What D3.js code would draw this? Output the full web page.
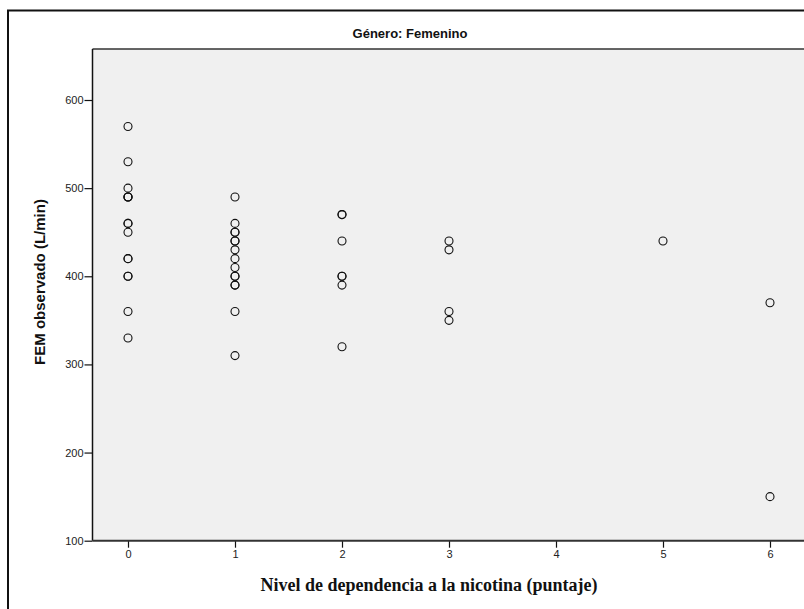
<!DOCTYPE html>
<html>
<head>
<meta charset="utf-8">
<script src="https://cdn.jsdelivr.net/npm/d3@7"></script>
<style>
  body { margin: 0; background: #fff; }
  svg { display: block; }
</style>
</head>
<body>
<svg id="canvas" width="804" height="609"></svg>
<script>
// nivel de dependencia (x) y FEM observado (y), one entry per case
let nivel = [
    0, 0, 0, 0, 0, 0, 0, 0, 0, 0, 0, 0, 0, 0, 0,
    1, 1, 1, 1, 1, 1, 1, 1, 1, 1, 1, 1, 1, 1, 1,
    2, 2, 2, 2, 2, 2, 2,
    3, 3, 3, 3,
    5,
    6, 6
]
let fem = [
    570, 530, 500, 490, 490, 460, 460, 450, 420, 420, 400, 400, 360, 330, 490,
    490, 460, 450, 450, 440, 440, 430, 420, 410, 400, 400, 390, 390, 360, 310,
    470, 470, 440, 400, 400, 390, 320,
    440, 430, 360, 350,
    440,
    370, 150
]
let xTicks = [0, 1, 2, 3, 4, 5, 6]
let yTicks = [100, 200, 300, 400, 500, 600]

let titleText = 'Género: Femenino'
let xLabel = 'Nivel de dependencia a la nicotina (puntaje)'
let yLabel = 'FEM observado (L/min)'

let canvas = d3.select('#canvas')

let plotLeft = 92.5
let plotTop = 49
let plotBottom = 540.7

let xScale = d3.scaleLinear()
                .domain([0, 6])
                .range([128, 770])

let yScale = d3.scaleLinear()
                .domain([100, 600])
                .range([plotBottom, 100])

// outer frame (runs off the right and bottom edge)
canvas.append('rect')
        .attr('x', 8)
        .attr('y', 10.5)
        .attr('width', 900)
        .attr('height', 700)
        .attr('fill', 'none')
        .attr('stroke', '#111')
        .attr('stroke-width', 2)

// plot background
canvas.append('rect')
        .attr('x', plotLeft)
        .attr('y', plotTop)
        .attr('width', 900)
        .attr('height', plotBottom - plotTop)
        .attr('fill', '#f0f0f0')

canvas.append('line')
        .attr('x1', plotLeft)
        .attr('x2', 804)
        .attr('y1', plotTop)
        .attr('y2', plotTop)
        .attr('stroke', '#333')
        .attr('stroke-width', 1.5)

canvas.append('text')
        .text(titleText)
        .attr('x', 410)
        .attr('y', 38)
        .attr('text-anchor', 'middle')
        .style('font-family', 'Liberation Sans, Arial, sans-serif')
        .style('font-weight', 'bold')
        .style('font-size', '13px')
        .attr('fill', '#111')

let yAxis = d3.axisLeft(yScale)
                .tickValues(yTicks)
                .tickSize(8)
                .tickPadding(1)
                .tickFormat(d3.format('d'))

let xAxis = d3.axisBottom(xScale)
                .tickValues(xTicks)
                .tickSize(7)
                .tickPadding(3)
                .tickFormat(d3.format('d'))

let gy = canvas.append('g')
        .attr('transform', 'translate(' + plotLeft + ',0)')
        .call(yAxis)
gy.select('.domain').remove()
gy.append('line')
        .attr('x1', 0)
        .attr('x2', 0)
        .attr('y1', plotTop)
        .attr('y2', plotBottom)
        .attr('stroke', '#111')
        .attr('stroke-width', 1.5)

let gx = canvas.append('g')
        .attr('transform', 'translate(0,' + plotBottom + ')')
        .call(xAxis)
gx.select('.domain').remove()
gx.append('line')
        .attr('x1', plotLeft)
        .attr('x2', 804)
        .attr('y1', 0)
        .attr('y2', 0)
        .attr('stroke', '#333')
        .attr('stroke-width', 2)

canvas.selectAll('.tick line')
        .attr('stroke', '#111')
        .attr('stroke-width', 1.2)
canvas.selectAll('.tick text')
        .style('font-family', 'Liberation Sans, Arial, sans-serif')
        .style('font-size', '11px')
        .attr('fill', '#222')

// points
canvas.append('g')
        .selectAll('circle')
        .data(fem)
        .enter()
        .append('circle')
        .attr('cx', (d, i) => xScale(nivel[i]))
        .attr('cy', (d) => yScale(d))
        .attr('r', 4)
        .attr('fill', 'none')
        .attr('stroke', '#111')
        .attr('stroke-width', 1.1)

canvas.append('text')
        .text(xLabel)
        .attr('x', 429)
        .attr('y', 591)
        .attr('text-anchor', 'middle')
        .style('font-family', 'Liberation Serif, Times New Roman, serif')
        .style('font-weight', 'bold')
        .style('font-size', '18px')
        .attr('fill', '#111')

canvas.append('text')
        .text(yLabel)
        .attr('transform', 'translate(45,282) rotate(-90)')
        .attr('text-anchor', 'middle')
        .style('font-family', 'Liberation Sans, Arial, sans-serif')
        .style('font-weight', 'bold')
        .style('font-size', '15px')
        .attr('fill', '#111')
</script>
</body>
</html>
